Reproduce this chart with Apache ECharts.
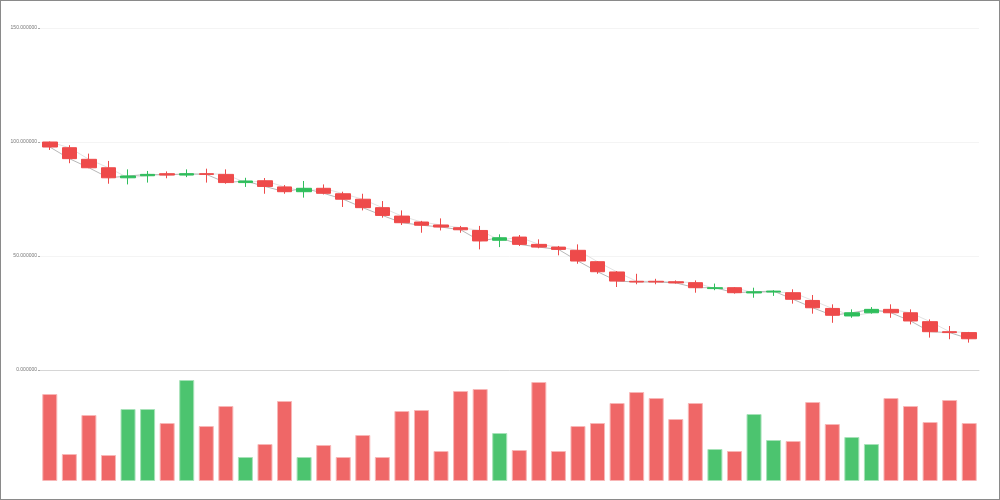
<!DOCTYPE html>
<html>
<head>
<meta charset="utf-8">
<script src="https://cdn.jsdelivr.net/npm/echarts@6/dist/echarts.min.js"></script>
<style>
html,body{margin:0;padding:0;background:#fff;}
#c{width:1000px;height:500px;box-sizing:border-box;border:1px solid #8a8a8a;}
</style>
</head>
<body>
<div id="c"></div>
<script>
const categories = ['1','2','3','4','5','6','7','8','9','10','11','12','13','14','15','16','17','18','19','20','21','22','23','24','25','26','27','28','29','30','31','32','33','34','35','36','37','38','39','40','41','42','43','44','45','46','47','48'];
const opens  = [100.0,97.5,92.4,88.7,84.3,85.2,86.1,85.5,86.1,85.8,82.2,83.0,80.3,78.2,79.7,77.3,74.9,71.2,67.5,64.9,63.6,62.4,61.2,56.9,58.3,55.1,53.9,52.5,47.5,43.0,38.9,38.9,38.7,38.3,35.7,36.1,33.8,34.2,33.9,30.5,27.0,23.7,25.1,26.6,25.1,21.2,16.8,16.4];
const closes = [97.8,92.7,88.7,84.3,85.1,85.8,85.5,86.1,85.8,82.2,82.9,80.5,78.2,79.7,77.5,74.9,71.2,67.8,64.6,63.5,62.7,61.5,56.6,58.0,55.1,53.9,52.9,47.8,43.1,39.0,38.6,38.6,38.2,36.1,36.1,33.9,34.3,34.6,31.0,27.3,24.0,25.1,26.6,25.1,21.5,16.8,16.4,13.7];
const lows   = [96.5,90.7,88.5,81.7,81.4,82.2,84.1,84.6,82.2,81.7,80.3,77.3,77.3,75.6,77.0,71.5,70.0,66.8,63.6,60.2,61.2,60.2,52.9,53.9,54.4,53.4,50.3,46.6,42.2,36.4,37.6,37.6,37.9,33.9,35.0,33.5,31.7,32.5,29.1,24.7,20.7,22.9,24.7,22.9,20.0,14.2,13.5,12.0];
const highs  = [100.2,98.6,94.9,91.7,88.0,87.3,87.1,88.0,88.3,88.0,84.3,84.2,81.1,82.9,81.4,78.2,77.3,74.1,70.0,65.4,66.5,63.2,63.2,59.5,59.2,57.3,54.4,55.1,47.8,43.4,42.2,40.0,39.3,39.3,37.9,36.4,36.1,35.0,35.4,32.9,28.8,26.6,27.6,28.8,26.6,22.2,19.3,16.7];
const volumes = [87,27,66,26,72,72,58,101,55,75,24,37,80,24,36,24,46,24,70,71,30,90,92,48,31,99,30,55,58,78,89,83,62,78,32,30,67,41,40,79,57,44,37,83,75,59,81,58];
const priceTicks = [0,50,100,150];

const candleData = categories.map((c,i)=>[opens[i],closes[i],lows[i],highs[i]]);
const RED='#ee4a4a', GREEN='#2fbe5c';
const chart = echarts.init(document.getElementById('c'), null, {renderer:'canvas'});
chart.setOption({
  animation:false,
  backgroundColor:'#fff',
  grid:[
    {left:39, right:20, top:27, height:342},
    {left:39, right:20, top:369, height:111}
  ],
  xAxis:[
    {type:'category', data:categories, gridIndex:0, boundaryGap:true,
     axisLine:{show:true, lineStyle:{color:'#d6d6d6', width:1}},
     axisTick:{show:false}, axisLabel:{show:false}, splitLine:{show:false}},
    {type:'category', data:categories, gridIndex:1, boundaryGap:true,
     axisLine:{show:false}, axisTick:{show:false}, axisLabel:{show:false}, splitLine:{show:false}}
  ],
  yAxis:[
    {type:'value', gridIndex:0, min:priceTicks[0], max:priceTicks[priceTicks.length-1], interval:50,
     axisLine:{show:false},
     axisTick:{show:true, length:2, lineStyle:{color:'#aaa'}},
     axisLabel:{show:true, fontSize:5, color:'#777', margin:3, fontFamily:'Liberation Sans',
       formatter:v=>v.toFixed(6)},
     splitLine:{show:true, lineStyle:{color:'#f4f4f4', width:1}}},
    {type:'value', gridIndex:1, min:0, max:111,
     axisLine:{show:false}, axisTick:{show:false}, axisLabel:{show:false}, splitLine:{show:false}}
  ],
  series:[
    {type:'line', data:opens, xAxisIndex:0, yAxisIndex:0, symbol:'none', z:1,
     lineStyle:{color:'#e2e2e2', width:1}},
    {type:'line', data:closes, xAxisIndex:0, yAxisIndex:0, symbol:'none', z:1,
     lineStyle:{color:'#b8b8b8', width:1}},
    {type:'candlestick', data:candleData, xAxisIndex:0, yAxisIndex:0, barWidth:15, z:3,
     itemStyle:{color:GREEN, color0:RED, borderColor:GREEN, borderColor0:RED, borderWidth:1}},
    {type:'bar', data:volumes.map((v,i)=>({value:v, itemStyle:{
        color: closes[i]>opens[i] ? '#4cc46f' : '#ef6767',
        borderColor: closes[i]>opens[i] ? '#a6e2b8' : '#f8b6b6', borderWidth:1}})),
     xAxisIndex:1, yAxisIndex:1, barWidth:15}
  ]
});
</script>
</body>
</html>
